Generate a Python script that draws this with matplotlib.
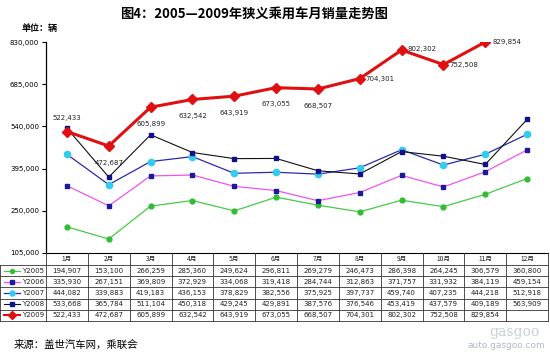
import matplotlib
matplotlib.use("Agg")
import matplotlib.pyplot as plt
from matplotlib.lines import Line2D

plt.rcParams['font.family'] = ['Noto Sans CJK SC', 'DejaVu Sans']

months = ["1月", "2月", "3月", "4月", "5月", "6月", "7月", "8月", "9月", "10月", "11月", "12月"]
series_names = ["Y2005", "Y2006", "Y2007", "Y2008", "Y2009"]
y2005 = [194907, 153100, 266259, 285360, 249624, 296811, 269279, 246473, 286398, 264245, 306579, 360800]
y2006 = [335930, 267151, 369809, 372929, 334068, 319418, 284744, 312863, 371757, 331932, 384119, 459154]
y2007 = [444082, 339883, 419183, 436153, 378829, 382556, 375925, 397737, 459740, 407235, 444218, 512918]
y2008 = [533668, 365784, 511104, 450318, 429245, 429891, 387576, 376546, 453419, 437579, 409189, 563909]
y2009 = [522433, 472687, 605899, 632542, 643919, 673055, 668507, 704301, 802302, 752508, 829854]
yticks = [105000, 250000, 395000, 540000, 685000, 830000]

W, H = 550, 354
fig = plt.figure(figsize=(W / 100, H / 100), dpi=100)

def fx(x):
    return x / W

def fy(y):
    return 1 - y / H

# plot area (pixels)
L, R, T, B = 46, 548, 42, 253
ax = fig.add_axes([fx(L), fy(B), fx(R - L), (B - T) / H])
ax.set_xlim(-0.5, 11.5)
ax.set_ylim(105000, 830000)
ax.set_yticks(yticks)
ax.set_yticklabels([f"{v:,}" for v in yticks], fontsize=5, family='DejaVu Sans')
ax.set_xticks([])
for s in ['top', 'right']:
    ax.spines[s].set_visible(False)
ax.spines['left'].set_linewidth(0.9)
ax.spines['bottom'].set_linewidth(0.8)
ax.tick_params(axis='y', length=3, width=0.8, pad=2)

styles = [
    dict(color='#44CC44', lw=0.9, marker='o', ms=3.5, mfc='#33BB33', mec='#33BB33'),
    dict(color='#EE55EE', lw=0.9, marker='s', ms=3.5, mfc='#1A1A9A', mec='#1A1A9A'),
    dict(color='#2A2AB0', lw=0.9, marker='o', ms=4.5, mfc='#33CCEE', mec='#33CCEE'),
    dict(color='#111111', lw=0.8, marker='s', ms=3.5, mfc='#10108A', mec='#10108A'),
    dict(color='#E01010', lw=2.2, marker='D', ms=5.5, mfc='#E01010', mec='#E01010'),
]
data = [y2005, y2006, y2007, y2008, y2009]
xs = list(range(12))
for d, st in zip(data, styles):
    ax.plot(xs[:len(d)], d, **st, zorder=3 if st['marker'] != 'D' else 4)

# labels for 2009
offsets = {0: (0, 10, 'center'), 1: (0, -12, 'center'), 2: (0, -12, 'center'),
           3: (0, -12, 'center'), 4: (0, -12, 'center'), 5: (0, -12, 'center'),
           6: (0, -12, 'center'), 7: (4, 0, 'left'), 8: (4, 1, 'left'),
           9: (4, 0, 'left'), 10: (5, 0, 'left')}
for i, v in enumerate(y2009):
    dx, dy, ha = offsets[i]
    ax.annotate(f"{v:,}", (i, v), xytext=(dx, dy), textcoords='offset points',
                ha=ha, va='center', fontsize=5, family='DejaVu Sans', color='#222222')

# Title and texts
fig.text(fx(254), fy(14), "图4：2005—2009年狭义乘用车月销量走势图", ha='center', va='center',
         fontsize=9.5, fontweight='bold')
fig.text(fx(22), fy(28), "单位：辆", ha='left', va='center', fontsize=6.5, fontweight='bold')
fig.text(fx(14), fy(345), "来源：盖世汽车网，乘联会", ha='left', va='center', fontsize=7.5)
fig.text(fx(545), fy(345), "auto.gasgoo.com", ha='right', va='center', fontsize=6.5, color='#B0B8C8',
         family='DejaVu Sans')
fig.text(fx(540), fy(332), "gasgoo", ha='right', va='center', fontsize=10, color='#C8CED8',
         family='DejaVu Serif')

# Table
line_kw = dict(color='#333333', lw=0.6, transform=fig.transFigure)
hdr_top, hdr_bot = 253, 265
row_h = 11.2
rows_y = [hdr_bot + i * row_h for i in range(6)]
colw = (R - L) / 12
# horizontal lines
fig.add_artist(Line2D([fx(0), fx(R)], [fy(hdr_bot), fy(hdr_bot)], **line_kw))
for y in rows_y[1:]:
    fig.add_artist(Line2D([fx(0), fx(R)], [fy(y), fy(y)], **line_kw))
# vertical lines
for i in range(13):
    x = L + i * colw
    fig.add_artist(Line2D([fx(x), fx(x)], [fy(hdr_top), fy(rows_y[-1])], **line_kw))
fig.add_artist(Line2D([fx(0), fx(0)], [fy(hdr_bot), fy(rows_y[-1])], **line_kw))
# header labels
for i, m in enumerate(months):
    fig.text(fx(L + (i + 0.5) * colw), fy((hdr_top + hdr_bot) / 2), m, ha='center', va='center',
             fontsize=4.8, color='#222222')
# rows
for r, (name, d, st) in enumerate(zip(series_names, data, styles)):
    yc = (rows_y[r] + rows_y[r + 1]) / 2
    fig.add_artist(Line2D([fx(4), fx(20)], [fy(yc), fy(yc)], color=st['color'], lw=min(st['lw'], 1.5),
                          transform=fig.transFigure))
    fig.add_artist(Line2D([fx(12)], [fy(yc)], marker=st['marker'], ms=st['ms'] * 0.8,
                          mfc=st['mfc'], mec=st['mec'], lw=0, transform=fig.transFigure))
    fig.text(fx(22), fy(yc), name, ha='left', va='center', fontsize=5, family='DejaVu Sans',
             color='#222222')
    for i, v in enumerate(d):
        fig.text(fx(L + (i + 0.5) * colw), fy(yc), f"{v:,}", ha='center', va='center',
                 fontsize=5, family='DejaVu Sans', color='#222222')

fig.savefig("out.png", dpi=100)
